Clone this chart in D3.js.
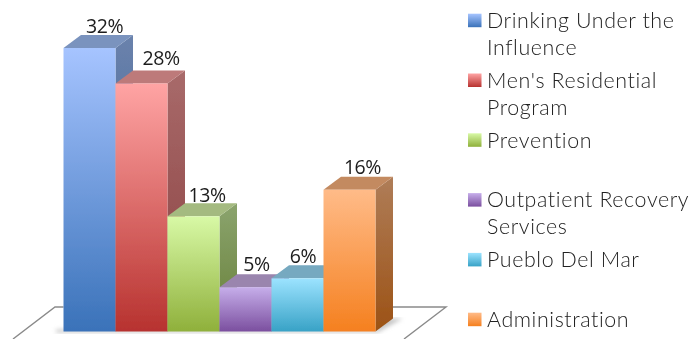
<!DOCTYPE html>
<html>
<head>
<meta charset="utf-8">
<script src="https://cdnjs.cloudflare.com/ajax/libs/d3/7.8.5/d3.min.js"></script>
<style>
  html, body { margin: 0; padding: 0; background: #fff; overflow: hidden; }
  .value { font-family: "Open Sans", sans-serif; font-size: 19.5px; fill: #1c1c1c; text-anchor: middle; letter-spacing: -0.4px; }
  .legend { font-family: Lato, sans-serif; font-weight: 300; font-size: 21.4px; fill: #222; letter-spacing: 0.6px; }
</style>
</head>
<body>
<script>
  var categories = ['Drinking Under the Influence', "Men's Residential Program", 'Prevention',
    'Outpatient Recovery Services', 'Pueblo Del Mar', 'Administration']
  var values = [32, 28, 13, 5, 6, 16]
  var labels = ['32%', '28%', '13%', '5%', '6%', '16%']

  // legend wrapping, same order as categories
  var legendLines = [['Drinking Under the', 'Influence'], ["Men's Residential", 'Program'], ['Prevention'],
    ['Outpatient Recovery', 'Services'], ['Pueblo Del Mar'], ['Administration']]

  var frontTop = ['#a6c4ff', '#ffa4a4', '#d8f9a6', '#c6aeea', '#9ce3ff', '#ffbb88']
  var frontBottom = ['#3a72b9', '#b7322f', '#8fb03b', '#7b4f9f', '#38a2c6', '#f5801f']
  var sideTop = ['#6a82ac', '#a86a6a', '#8ba46e', '#86709e', '#6b9bb2', '#af7d58']
  var sideBottom = ['#365a8e', '#8a3f3f', '#667e36', '#5a3a78', '#2a7894', '#9c5215']
  var topFill = ['#7a93be', '#bd7a7a', '#a4ba80', '#9a85ae', '#76a9c0', '#c38a60']

  var options = {
    width: 696, height: 339, left: 63.5, right: 375.5, base: 331.5, depthX: 17.5, depthY: 13,
    // labels are nudged sideways and up from the back of each bar
    labelShift: [15.2, 19.7, 13.7, 11, 5.5, 13],
    labelLift: [2, 5, 1.5, 3.5, 2.6, 2.7],
    legendX: 487, legendTop: 28, legendStep: 59.8, legendLine: 27
  }

  var svg = d3.select('body').append('svg')
    .attr('width', options.width)
    .attr('height', options.height)
    .style('display', 'block')

  var x = d3.scaleBand().domain(d3.range(values.length)).range([options.left, options.right])
  var y = d3.scaleLinear().domain([0, 32]).range([options.base, 48])

  var defs = svg.append('defs')

  function addGradient(id, from, to) {
    var g = defs.append('linearGradient').attr('id', id)
      .attr('x1', 0).attr('y1', 0).attr('x2', 0).attr('y2', 1)
    g.append('stop').attr('offset', 0).attr('stop-color', from)
    g.append('stop').attr('offset', 1).attr('stop-color', to)
  }

  values.forEach(function(d, i) {
    addGradient('front' + i, frontTop[i], frontBottom[i])
    addGradient('side' + i, sideTop[i], sideBottom[i])
  })

  defs.append('filter').attr('id', 'soft').append('feGaussianBlur').attr('stdDeviation', 2)
  defs.append('filter').attr('id', 'ink').append('feGaussianBlur').attr('stdDeviation', 0.35)

  // floor
  var floorBack = options.base - 24.5
  var floor = svg.append('g').attr('fill', 'none').attr('stroke', '#8a8a8a').attr('stroke-width', 1.4)
  floor.append('path').attr('d', d3.line()([[13, 339], [55, floorBack], [options.left, floorBack]]))
  floor.append('path').attr('d', d3.line()([[393, floorBack], [446, floorBack], [404, 339]]))

  // shadow under the bars
  svg.append('path')
    .attr('d', d3.line()([[56, options.base + 1], [options.right + 2, options.base + 1],
      [options.right + 27, options.base - 13], [options.right + 8, options.base - 13], [options.right, options.base - 2], [56, options.base - 2]]))
    .attr('fill', '#c4c4c4')
    .attr('filter', 'url(#soft)')

  var bars = svg.append('g').attr('filter', 'url(#ink)')
    .selectAll('g').data(values).enter().append('g')

  // right side
  bars.append('path')
    .attr('fill', function(d, i) { return 'url(#side' + i + ')' })
    .attr('d', function(d, i) {
      var xr = x(i) + x.bandwidth()
      return d3.line()([[xr, y(d)], [xr + options.depthX, y(d) - options.depthY],
        [xr + options.depthX, options.base - options.depthY], [xr, options.base]]) + 'Z'
    })

  // top
  bars.append('path')
    .attr('fill', function(d, i) { return topFill[i] })
    .attr('d', function(d, i) {
      var xl = x(i), xr = x(i) + x.bandwidth()
      return d3.line()([[xl, y(d)], [xl + options.depthX, y(d) - options.depthY],
        [xr + options.depthX, y(d) - options.depthY], [xr, y(d)]]) + 'Z'
    })

  // front
  bars.append('rect')
    .attr('x', function(d, i) { return x(i) })
    .attr('y', function(d) { return y(d) })
    .attr('width', x.bandwidth())
    .attr('height', function(d) { return options.base - y(d) })
    .attr('fill', function(d, i) { return 'url(#front' + i + ')' })

  svg.append('g').attr('filter', 'url(#ink)')
    .selectAll('text').data(values).enter().append('text')
    .attr('class', 'value')
    .attr('x', function(d, i) { return x(i) + x.bandwidth() / 2 + options.labelShift[i] })
    .attr('y', function(d, i) { return y(d) - options.depthY - options.labelLift[i] })
    .text(function(d, i) { return labels[i] })

  // legend
  var legend = svg.append('g').attr('filter', 'url(#ink)')
    .selectAll('g').data(categories).enter().append('g')

  legend.append('rect')
    .attr('x', 468).attr('width', 13.5).attr('height', 13.5)
    .attr('y', function(d, i) { return options.legendTop + i * options.legendStep - 14.3 })
    .attr('fill', function(d, i) { return 'url(#front' + i + ')' })

  legend.each(function(d, i) {
    d3.select(this).selectAll('text').data(legendLines[i]).enter().append('text')
      .attr('class', 'legend')
      .attr('x', options.legendX)
      .attr('y', function(line, j) { return options.legendTop + i * options.legendStep + j * options.legendLine })
      .text(function(line) { return line })
  })
</script>
</body>
</html>
